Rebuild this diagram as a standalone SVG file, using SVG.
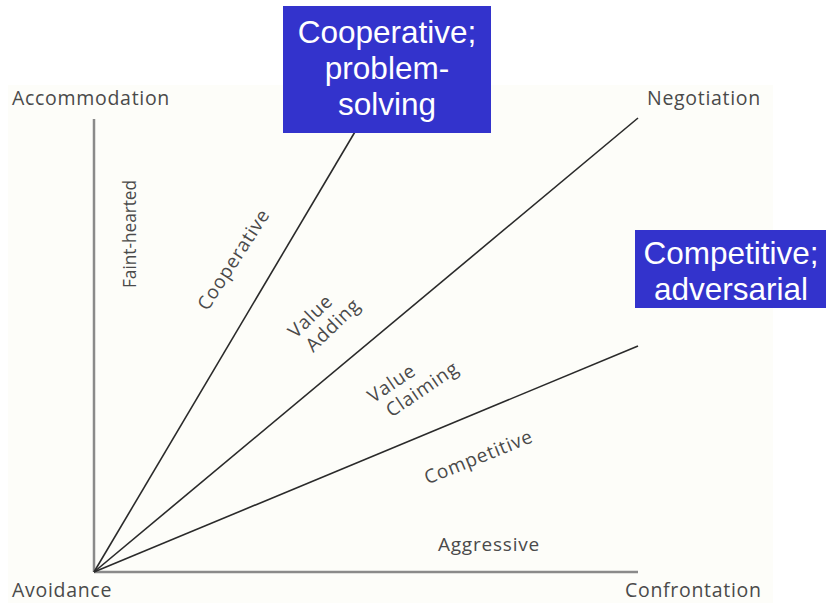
<svg xmlns="http://www.w3.org/2000/svg" width="828" height="603" viewBox="0 0 828 603">
  <style>
    .axis { stroke: #8a8a8a; stroke-width: 2.5; fill: none; }
    .ray { stroke: #2a2a2a; stroke-width: 1.6; fill: none; }
    .lbl { font-family: "Open Sans", "DejaVu Sans", sans-serif; font-size: 19.5px; letter-spacing: 0.7px; fill: #4a4a4a; }
    .zone { font-family: "Open Sans", "DejaVu Sans", sans-serif; font-size: 19px; letter-spacing: 0.8px; fill: #4a4a4a; text-anchor: middle; }
    .narrow { letter-spacing: 0; }
    .box { fill: #3333cc; }
    .boxtxt { font-family: "Liberation Sans", Arial, sans-serif; font-size: 31.5px; fill: #ffffff; text-anchor: middle; }
  </style>
  <rect width="828" height="603" fill="#ffffff"/>
  <rect x="8" y="85" width="765" height="518" fill="#fdfdf9"/>

  <g id="connectors">
    <line class="axis" x1="94" y1="572" x2="94" y2="119"/>
    <line class="axis" x1="94" y1="572" x2="638" y2="572"/>
    <line class="ray" x1="94" y1="572" x2="362" y2="120"/>
    <line class="ray" x1="94" y1="572" x2="638" y2="118"/>
    <line class="ray" x1="94" y1="572" x2="638" y2="346"/>
  </g>

  <g id="axis-labels">
    <text class="lbl" x="12" y="105">Accommodation</text>
    <text class="lbl" x="647" y="105">Negotiation</text>
    <text class="lbl" x="12" y="597">Avoidance</text>
    <text class="lbl" x="625" y="597">Confrontation</text>
  </g>

  <g id="zone-labels">
    <text class="zone narrow" transform="translate(136,234) rotate(-90)" textLength="108" lengthAdjust="spacingAndGlyphs" x="-54" style="text-anchor:start">Faint-hearted</text>
    <text class="zone" transform="translate(239,263) rotate(-57)">Cooperative</text>
    <text class="zone" transform="translate(322,321) rotate(-44)"><tspan x="-5" y="-5">Value</tspan><tspan x="5" y="17">Adding</tspan></text>
    <text class="zone" transform="translate(408,386) rotate(-34)"><tspan x="-12" y="-5">Value</tspan><tspan x="10" y="17">Claiming</tspan></text>
    <text class="zone" transform="translate(481,463) rotate(-22)">Competitive</text>
    <text class="zone" x="489" y="551">Aggressive</text>
  </g>

  <g id="node-cooperative">
    <rect class="box" x="283" y="6" width="208" height="127"/>
    <text class="boxtxt" x="387" y="43">Cooperative;</text>
    <text class="boxtxt" x="387" y="79">problem-</text>
    <text class="boxtxt" x="387" y="115">solving</text>
  </g>

  <g id="node-competitive">
    <rect class="box" x="635" y="230" width="191" height="78"/>
    <text class="boxtxt" x="731" y="264">Competitive;</text>
    <text class="boxtxt" x="731" y="300">adversarial</text>
  </g>
</svg>
